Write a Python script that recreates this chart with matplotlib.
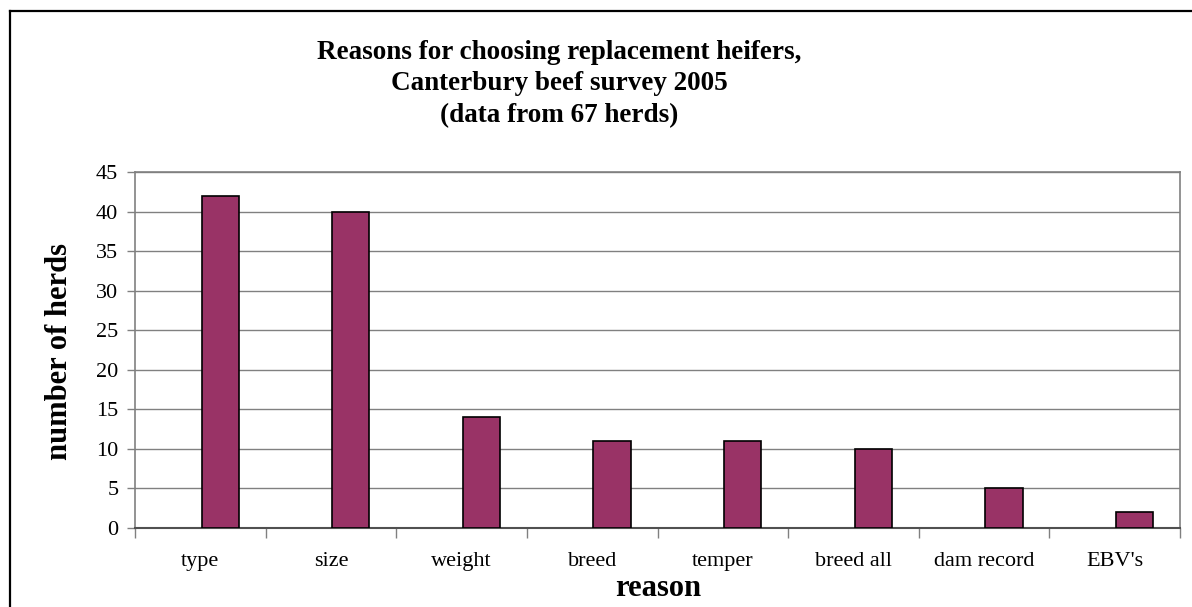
import matplotlib.pyplot as plt
import numpy as np
from matplotlib.lines import Line2D

plt.rcParams['font.family'] = ['Liberation Serif', 'DejaVu Serif']

# Survey data
reasons = ['type', 'size', 'weight', 'breed', 'temper', 'breed all', 'dam record', "EBV's"]
herds = [42, 40, 14, 11, 11, 10, 5, 2]
yticks = [0, 5, 10, 15, 20, 25, 30, 35, 40, 45]

fig = plt.figure(figsize=(11.92, 6.07), dpi=100)
ax = fig.add_axes([135 / 1192, 1 - 528 / 607, (1180 - 135) / 1192, (528 - 172) / 607])

x = np.arange(len(reasons))
ax.bar(x + 0.01, herds, width=0.285, align='edge', color='#993366',
       edgecolor='black', linewidth=1.2, zorder=3)

ax.set_xlim(-0.5, len(reasons) - 0.5)
ax.set_ylim(0, 45)
ax.set_yticks(yticks)
ax.yaxis.grid(True, color='#808080', linewidth=1.0, zorder=0)

ax.set_xticks(x)
ax.set_xticklabels(reasons, fontsize=16)
ax.set_xticks(np.arange(len(reasons) + 1) - 0.5, minor=True)
ax.tick_params(axis='x', which='major', length=0, pad=17)
ax.tick_params(axis='x', which='minor', length=7, width=1, color='#808080', direction='out')
ax.tick_params(axis='y', length=6, width=1, color='#808080', direction='out', labelsize=16, pad=6)

for side in ['left', 'top', 'right']:
    ax.spines[side].set_color('#808080')
    ax.spines[side].set_linewidth(1.2)
ax.spines['bottom'].set_color('#505050')
ax.spines['bottom'].set_linewidth(1.5)

fig.text(60 / 1192, 1 - 351 / 607, 'number of herds', rotation=90, fontsize=22,
         fontweight='bold', ha='center', va='center')
fig.text(658 / 1192, 1 - 588 / 607, 'reason', fontsize=22, fontweight='bold',
         ha='center', va='center')
fig.text(559 / 1192, 1 - 84 / 607,
         'Reasons for choosing replacement heifers,\nCanterbury beef survey 2005\n(data from 67 herds)',
         fontsize=19.5, fontweight='bold', ha='center', va='center', linespacing=1.33)

# outer chart frame (left and top edges visible)
fig.add_artist(Line2D([10 / 1192, 10 / 1192], [0, 1 - 11 / 607], color='black', linewidth=1.6))
fig.add_artist(Line2D([10 / 1192, 1], [1 - 11 / 607, 1 - 11 / 607], color='black', linewidth=1.6))

fig.savefig('out.png', dpi=100)
